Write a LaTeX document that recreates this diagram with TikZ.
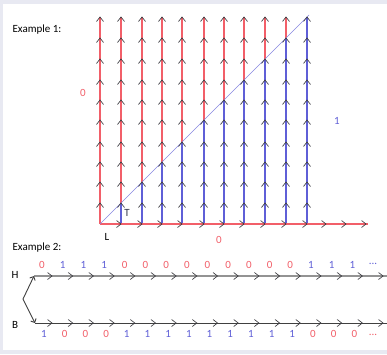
\documentclass[tikz,border=0pt]{standalone}
\usepackage{fontspec}
\setmainfont{Carlito}
\usetikzlibrary{arrows.meta}
\definecolor{framec}{RGB}{232,233,242}
\definecolor{myred}{RGB}{242,95,105}
\definecolor{myblue}{RGB}{95,95,215}
\definecolor{chevc}{RGB}{60,60,65}
\definecolor{tcol}{RGB}{50,55,75}
\begin{document}
\begin{tikzpicture}[x=1pt,y=-1pt,
  txt/.style={font=\fontsize{11}{13}\selectfont, inner sep=0pt},
  redtxt/.style={txt,text=myred},
  bluetxt/.style={txt,text=myblue},
  redline/.style={draw=myred,line width=1.1pt},
  blueline/.style={draw=myblue,line width=1.1pt},
  chev/.style={draw=chevc,line width=0.65pt},
  upchev/.pic={\draw[chev] (-3.5,4.5) -- (0,0) -- (3.5,4.5);},
  rightchev/.pic={\draw[chev] (-4.5,-3.5) -- (0,0) -- (-4.5,3.5);},
  topline/.style={draw=gray!85,line width=1.4pt},
  botline/.style={draw=black!75,line width=0.9pt},
  branch/.style={draw=black!75,line width=0.9pt,-{Straight Barb[length=3pt,width=6pt]}},
]
\fill[framec] (0,0) rectangle (387,354);
\fill[white] (3,4) rectangle (387,350);
\useasboundingbox (0,0) rectangle (387,354);

% ---------- Example 1 ----------
\coordinate (O) at (100,224);
\coordinate (Hend) at (368,224);
\coordinate (Dend) at (309,15);
\foreach \xx [count=\i from 0] in {100,121,142,162,182,204,224,244,265,286,307}{
  \pgfmathtruncatemacro\yd{324-\xx}
  \ifnum\i<10 \draw[redline] (\xx,17) -- (\xx,\yd); \fi
  \ifnum\i>0 \draw[blueline] (\xx,\yd) -- (\xx,224); \fi
}
\draw[redline] (O) -- (Hend);
\draw[myblue!75,line width=0.5pt] (O) -- (Dend);
\foreach \xx in {100,121,142,162,182,204,224,244,265,286,307}{
  \foreach \yy in {203,182,162,142,120,100,80,59,38,17}{
    \pic at (\xx,\yy) {upchev};
  }
}
\foreach \xx in {121,142,162,182,204,224,244,265,286,307,326,346,366}{
  \pic at (\xx,224) {rightchev};
}
\node[txt] (ex1) at (37,30) {Example 1:};
\node[redtxt] (zeroL) at (83,93) {0};
\node[bluetxt] (oneR) at (337,121) {1};
\node[redtxt] (zeroB) at (219,240) {0};
\node[txt] (L) at (107,237) {L};
\node[txt,text=tcol] (T) at (127,213) {T};

% ---------- Example 2 ----------
\node[txt] (ex2) at (37,248) {Example 2:};
\node[txt] (H) at (15,275) {H};
\node[txt] (B) at (15,325) {B};
\coordinate (V) at (23,299);
\coordinate (Hs) at (34,276);
\coordinate (Bs) at (35,323);
\coordinate (He) at (387,276);
\coordinate (Be) at (387,323);
\draw[topline] (Hs) -- (He);
\draw[botline] (Bs) -- (Be);
\draw[branch] (V) -- (Hs);
\draw[branch] (V) -- (Bs);
\foreach \k in {0,...,16}{
  \pic at ({52+20.69*\k},276) {rightchev};
  \pic at ({52+20.69*\k},323) {rightchev};
}
\foreach \v [count=\k from 0] in {0,1,1,1,0,0,0,0,0,0,0,0,0,1,1,1}{
  \ifnum\v=0 \def\cc{myred}\else\def\cc{myblue}\fi
  \node[txt,text=\cc] (t\k) at ({42+20.69*\k},265) {\v};
}
\node[bluetxt] (tdots) at (373,264) {...};
\foreach \v [count=\k from 0] in {1,0,0,0,1,1,1,1,1,1,1,1,1,0,0,0}{
  \ifnum\v=0 \def\cc{myred}\else\def\cc{myblue}\fi
  \node[txt,text=\cc] (b\k) at ({44+20.69*\k},334) {\v};
}
\node[redtxt] (bdots) at (373,335) {...};
\end{tikzpicture}
\end{document}
